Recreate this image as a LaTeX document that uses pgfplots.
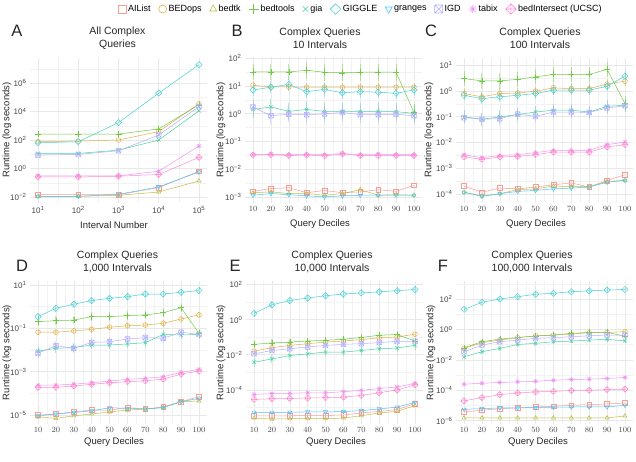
\documentclass[border=0pt]{standalone}
\usepackage{pgfplots}
\pgfplotsset{compat=1.18}
\usepackage{pgfplotstable}
\usepackage{fontspec}
\setmainfont{Liberation Sans}

\definecolor{hAIList}{HTML}{F8766D}
\definecolor{hBEDops}{HTML}{D89000}
\definecolor{hbedtk}{HTML}{A3A500}
\definecolor{hbedtools}{HTML}{39B600}
\definecolor{hgia}{HTML}{00BF7D}
\definecolor{hGIGGLE}{HTML}{00BFC4}
\definecolor{hgranges}{HTML}{00B0F6}
\definecolor{hIGD}{HTML}{9590FF}
\definecolor{htabix}{HTML}{E76BF3}
\definecolor{hbedI}{HTML}{FF62BC}
\colorlet{kAIList}{hAIList!72!white}
\colorlet{kBEDops}{hBEDops!72!white}
\colorlet{kbedtk}{hbedtk!72!white}
\colorlet{kbedtools}{hbedtools!72!white}
\colorlet{kgia}{hgia!72!white}
\colorlet{kGIGGLE}{hGIGGLE!72!white}
\colorlet{kgranges}{hgranges!72!white}
\colorlet{kIGD}{hIGD!72!white}
\colorlet{ktabix}{htabix!72!white}
\colorlet{kbedI}{hbedI!72!white}

\pgfdeclareplotmark{boxx}{%
  \pgfpathrectangle{\pgfpoint{-\pgfplotmarksize}{-\pgfplotmarksize}}{\pgfpoint{2\pgfplotmarksize}{2\pgfplotmarksize}}%
  \pgfpathmoveto{\pgfpoint{-\pgfplotmarksize}{-\pgfplotmarksize}}\pgfpathlineto{\pgfpoint{\pgfplotmarksize}{\pgfplotmarksize}}%
  \pgfpathmoveto{\pgfpoint{-\pgfplotmarksize}{\pgfplotmarksize}}\pgfpathlineto{\pgfpoint{\pgfplotmarksize}{-\pgfplotmarksize}}%
  \pgfusepathqstroke}
\pgfdeclareplotmark{star8}{%
  \pgfpathmoveto{\pgfpoint{-\pgfplotmarksize}{0pt}}\pgfpathlineto{\pgfpoint{\pgfplotmarksize}{0pt}}%
  \pgfpathmoveto{\pgfpoint{0pt}{-\pgfplotmarksize}}\pgfpathlineto{\pgfpoint{0pt}{\pgfplotmarksize}}%
  \pgfpathmoveto{\pgfpoint{-0.707\pgfplotmarksize}{-0.707\pgfplotmarksize}}\pgfpathlineto{\pgfpoint{0.707\pgfplotmarksize}{0.707\pgfplotmarksize}}%
  \pgfpathmoveto{\pgfpoint{-0.707\pgfplotmarksize}{0.707\pgfplotmarksize}}\pgfpathlineto{\pgfpoint{0.707\pgfplotmarksize}{-0.707\pgfplotmarksize}}%
  \pgfusepathqstroke}
\pgfdeclareplotmark{rdiamond}{%
  \pgfpathmoveto{\pgfpoint{0pt}{1.3\pgfplotmarksize}}\pgfpathlineto{\pgfpoint{1.3\pgfplotmarksize}{0pt}}%
  \pgfpathlineto{\pgfpoint{0pt}{-1.3\pgfplotmarksize}}\pgfpathlineto{\pgfpoint{-1.3\pgfplotmarksize}{0pt}}\pgfpathclose
  \pgfusepathqstroke}
\pgfdeclareplotmark{diamondplus}{%
  \pgfpathmoveto{\pgfpoint{0pt}{1.3\pgfplotmarksize}}\pgfpathlineto{\pgfpoint{1.3\pgfplotmarksize}{0pt}}%
  \pgfpathlineto{\pgfpoint{0pt}{-1.3\pgfplotmarksize}}\pgfpathlineto{\pgfpoint{-1.3\pgfplotmarksize}{0pt}}\pgfpathclose
  \pgfpathmoveto{\pgfpoint{0pt}{1.3\pgfplotmarksize}}\pgfpathlineto{\pgfpoint{0pt}{-1.3\pgfplotmarksize}}%
  \pgfpathmoveto{\pgfpoint{-1.3\pgfplotmarksize}{0pt}}\pgfpathlineto{\pgfpoint{1.3\pgfplotmarksize}{0pt}}%
  \pgfusepathqstroke}

\pgfplotsset{
  sAIList/.style={color=kAIList, mark=square, mark options={solid}},
  sBEDops/.style={color=kBEDops, mark=o, mark options={solid}},
  sbedtk/.style={color=kbedtk, mark=triangle, mark options={solid}},
  sbedtools/.style={color=kbedtools, mark=+, mark options={solid,scale=1.25}},
  sgia/.style={color=kgia, mark=x, mark options={solid}},
  sGIGGLE/.style={color=kGIGGLE, mark=rdiamond, mark options={solid}},
  sgranges/.style={color=kgranges, mark=triangle, mark options={solid,rotate=180}},
  sIGD/.style={color=kIGD, mark=boxx, mark options={solid}},
  stabix/.style={color=ktabix, mark=star8, mark options={solid}},
  sbedI/.style={color=kbedI, mark=diamondplus, mark options={solid}},
  eGIGGLE/.style={}, ebedtools/.style={}, eBEDops/.style={}, egia/.style={}, eIGD/.style={},
  errs/.style n args={5}{
    eGIGGLE/.style={error bars/y dir=both, error bars/y fixed=#1},
    ebedtools/.style={error bars/y dir=both, error bars/y fixed=#2},
    eBEDops/.style={error bars/y dir=both, error bars/y fixed=#3},
    egia/.style={error bars/y dir=both, error bars/y fixed=#4},
    eIGD/.style={error bars/y dir=both, error bars/y fixed=#5}},
  error bars/error mark=none,
  error bars/error bar style={line width=0.9pt, opacity=0.45},
  panel/.style={scale only axis, width=177pt, anchor=south west,
    axis line style={draw=none}, major tick length=0pt, minor tick length=0pt,
    grid=both, major grid style={color=black!9, line width=0.5pt},
    minor grid style={color=black!5, line width=0.35pt},
    tick label style={font=\fontsize{8}{9}\selectfont, text=black!72},
    clip=false,
    every axis plot/.append style={line width=0.5pt, mark size=2.4pt}},
  dec/.style={xmin=5.5, xmax=104.5, xtick={10,20,...,100}, minor xtick={15,25,...,95}},
  row1/.style={height=145.5pt},
  row2/.style={height=143pt},
}

\newcommand{\drawall}[1]{%
  \addplot[sAIList] table[x=x,y=AIList]{#1};
  \addplot[sBEDops,eBEDops] table[x=x,y=BEDops]{#1};
  \addplot[sbedtk] table[x=x,y=bedtk]{#1};
  \addplot[sbedtools,ebedtools] table[x=x,y=bedtools]{#1};
  \addplot[sgia,egia] table[x=x,y=gia]{#1};
  \addplot[sGIGGLE,eGIGGLE] table[x=x,y=GIGGLE]{#1};
  \addplot[sgranges] table[x=x,y=granges]{#1};
  \addplot[sIGD,eIGD] table[x=x,y=IGD]{#1};
  \addplot[stabix] table[x=x,y=tabix]{#1};
  \addplot[sbedI] table[x=x,y=bedI]{#1};
}

% values are log10(runtime in seconds)
\pgfplotstableread{
x AIList BEDops bedtk bedtools gia GIGGLE granges IGD tabix bedI
1 -1.84 1.88 -1.95 2.42 1.06 1.81 -1.95 0.94 -0.52 -0.59
2 -1.84 1.93 -1.95 2.42 1.06 1.88 -1.95 0.99 -0.52 -0.59
3 -1.84 2.00 -1.88 2.42 1.29 3.22 -1.81 1.25 -0.52 -0.54
4 -1.34 2.59 -1.65 2.78 2.00 5.29 -1.29 2.35 -0.19 -0.42
5 -0.19 4.54 -0.87 4.47 4.05 7.29 -0.24 4.35 1.58 0.78
}\tabA
\pgfplotstableread{
x AIList BEDops bedtk bedtools gia GIGGLE granges IGD tabix bedI
10 -2.80 1.02 -2.85 1.50 0.15 0.85 -2.94 0.24 -1.48 -1.49
20 -2.70 0.96 -2.82 1.50 0.24 0.95 -2.88 -0.08 -1.46 -1.48
30 -2.67 0.96 -2.88 1.50 0.08 1.05 -2.92 -0.02 -1.48 -1.51
40 -2.85 0.95 -2.88 1.56 0.15 0.79 -2.96 -0.04 -1.48 -1.49
50 -2.77 0.95 -2.94 1.49 0.08 0.87 -3.00 -0.01 -1.48 -1.52
60 -2.85 0.95 -2.88 1.47 0.08 0.75 -2.96 0.04 -1.44 -1.45
70 -2.82 0.95 -2.74 1.49 0.07 0.79 -2.94 -0.04 -1.48 -1.51
80 -2.74 0.95 -2.94 1.49 0.08 0.77 -2.94 -0.04 -1.46 -1.51
90 -2.80 0.95 -2.92 1.49 0.07 0.73 -2.94 -0.02 -1.48 -1.51
100 -2.58 0.95 -2.94 0.04 0.01 0.85 -2.94 -0.08 -1.48 -1.51
}\tabB
\pgfplotstableread{
x AIList BEDops bedtk bedtools gia GIGGLE granges IGD tabix bedI
10 -3.70 -0.10 -3.94 0.48 -1.01 -0.17 -3.94 -1.04 -2.48 -2.56
20 -3.94 -0.23 -4.09 0.39 -1.10 -0.30 -4.10 -1.10 -2.60 -2.66
30 -3.78 -0.10 -4.00 0.39 -1.01 -0.23 -4.00 -1.08 -2.51 -2.57
40 -3.81 -0.08 -3.84 0.45 -0.92 -0.17 -3.91 -0.90 -2.48 -2.55
50 -3.74 -0.01 -3.81 0.55 -0.82 -0.10 -3.87 -0.99 -2.40 -2.48
60 -3.65 0.12 -3.70 0.64 -0.75 0.03 -3.81 -0.82 -2.31 -2.38
70 -3.58 0.09 -3.72 0.64 -0.75 0.03 -3.78 -0.82 -2.31 -2.38
80 -3.74 0.09 -3.72 0.64 -0.82 0.03 -3.74 -0.84 -2.31 -2.38
90 -3.48 0.27 -3.52 0.84 -0.60 0.18 -3.55 -0.66 -2.09 -2.18
100 -3.26 0.38 -3.48 -0.49 -0.56 0.58 -3.48 -0.58 -1.99 -2.09
}\tabC
\pgfplotstableread{
x AIList BEDops bedtk bedtools gia GIGGLE granges IGD tabix bedI
10 -5.00 -1.18 -5.08 -0.69 -2.05 -0.46 -5.03 -2.15 -3.62 -3.72
20 -4.95 -1.18 -5.15 -0.65 -1.92 -0.08 -4.95 -1.80 -3.62 -3.72
30 -4.85 -1.12 -5.03 -0.62 -1.89 0.11 -4.88 -1.92 -3.57 -3.66
40 -4.77 -1.05 -4.95 -0.46 -1.77 0.28 -4.80 -1.65 -3.51 -3.58
50 -4.77 -0.95 -4.85 -0.46 -1.77 0.38 -4.66 -1.62 -3.43 -3.51
60 -4.65 -0.88 -4.77 -0.42 -1.72 0.46 -4.69 -1.49 -3.35 -3.46
70 -4.72 -0.85 -4.72 -0.38 -1.66 0.58 -4.72 -1.43 -3.31 -3.42
80 -4.62 -0.77 -4.65 -0.28 -1.28 0.58 -4.65 -1.46 -3.23 -3.34
90 -4.38 -0.57 -4.38 -0.05 -1.31 0.66 -4.38 -1.18 -3.03 -3.11
100 -4.15 -0.38 -4.35 -1.23 -1.28 0.74 -4.23 -1.28 -2.89 -2.97
}\tabD
\pgfplotstableread{
x AIList BEDops bedtk bedtools gia GIGGLE granges IGD tabix bedI
10 -5.48 -1.80 -5.61 -1.41 -2.43 0.36 -5.28 -1.95 -4.26 -4.55
20 -5.48 -1.60 -5.67 -1.33 -2.24 0.84 -5.28 -1.76 -4.22 -4.51
30 -5.48 -1.47 -5.65 -1.28 -2.05 1.09 -5.28 -1.66 -4.20 -4.49
40 -5.46 -1.37 -5.65 -1.22 -1.95 1.23 -5.26 -1.56 -4.17 -4.47
50 -5.46 -1.28 -5.65 -1.18 -1.85 1.36 -5.26 -1.47 -4.17 -4.45
60 -5.44 -1.22 -5.61 -1.12 -1.85 1.46 -5.24 -1.41 -4.11 -4.42
70 -5.32 -1.14 -5.48 -1.02 -1.76 1.52 -5.19 -1.37 -4.03 -4.32
80 -5.23 -1.04 -5.32 -0.89 -1.66 1.58 -5.09 -1.31 -3.93 -4.17
90 -5.13 -0.99 -5.23 -0.85 -1.62 1.65 -4.99 -1.24 -3.84 -4.01
100 -4.78 -0.83 -4.90 -1.22 -1.47 1.71 -4.71 -1.24 -3.63 -3.72
}\tabE
\pgfplotstableread{
x AIList BEDops bedtk bedtools gia GIGGLE granges IGD tabix bedI
10 -5.43 -1.25 -5.82 -1.21 -1.80 1.32 -5.25 -1.47 -3.60 -4.70
20 -5.32 -0.88 -5.82 -0.81 -1.47 1.78 -5.21 -1.03 -3.54 -4.48
30 -5.21 -0.70 -5.82 -0.64 -1.25 2.00 -5.16 -0.81 -3.49 -4.29
40 -5.16 -0.55 -5.82 -0.53 -0.99 2.15 -5.16 -0.70 -3.45 -4.18
50 -5.10 -0.42 -5.82 -0.44 -0.92 2.31 -5.14 -0.59 -3.41 -4.11
60 -5.05 -0.37 -5.82 -0.37 -0.81 2.37 -5.12 -0.55 -3.34 -4.07
70 -4.99 -0.31 -5.82 -0.26 -0.77 2.48 -5.10 -0.48 -3.30 -4.02
80 -4.95 -0.22 -5.82 -0.20 -0.70 2.53 -5.10 -0.42 -3.27 -4.00
90 -4.90 -0.20 -5.82 -0.20 -0.66 2.59 -5.10 -0.37 -3.23 -3.96
100 -4.84 -0.15 -5.69 -0.44 -0.75 2.62 -4.99 -0.37 -3.16 -3.93
}\tabF

\begin{document}
\begin{tikzpicture}[x=1pt,y=1pt]
\path[use as bounding box] (0,0) rectangle (636,-461);

% ---- A
\begin{axis}[panel, row1, at={(30pt,-203pt)},
  xmin=0.8, xmax=5.2, ymin=-2.42, ymax=7.79,
  xtick={1,2,3,4,5}, minor xtick={1.5,2.5,3.5,4.5},
  xticklabels={10\textsuperscript{1},10\textsuperscript{2},10\textsuperscript{3},10\textsuperscript{4},10\textsuperscript{5}},
  ytick={-2,0,2,4,6}, minor ytick={-1,1,3,5,7},
  yticklabels={10\textsuperscript{−2},10\textsuperscript{0},10\textsuperscript{2},10\textsuperscript{4},10\textsuperscript{6}}]
\drawall{\tabA}
\end{axis}

% ---- B
\begin{axis}[panel, row1, dec, at={(245pt,-203pt)},
  ymin=-3.22, ymax=2.02,
  ytick={-3,-2,-1,0,1,2}, minor ytick={-2.5,-1.5,-0.5,0.5,1.5},
  yticklabels={10\textsuperscript{−3},10\textsuperscript{−2},10\textsuperscript{−1},10\textsuperscript{0},10\textsuperscript{1},10\textsuperscript{2}},
  errs={0.22}{0.3}{0.15}{0.3}{0.3},
  legend columns=10,
  legend style={at={(0.655,1.333)}, anchor=center, draw=none, fill=none,
    font=\fontsize{9}{10}\selectfont, inner sep=0pt,
    /tikz/every even column/.append style={column sep=6pt}},
  legend image code/.code={\draw[#1,mark size=4pt,line width=0.6pt] plot coordinates {(0.17cm,0cm)};}]
\drawall{\tabB}
\legend{AIList,BEDops,bedtk,bedtools,gia,GIGGLE,granges,IGD,tabix,bedIntersect (UCSC)}
\end{axis}

% ---- C
\begin{axis}[panel, row1, dec, at={(456pt,-203pt)},
  ymin=-4.36, ymax=1.30,
  ytick={-4,-3,-2,-1,0,1}, minor ytick={-3.5,-2.5,-1.5,-0.5,0.5},
  yticklabels={10\textsuperscript{−4},10\textsuperscript{−3},10\textsuperscript{−2},10\textsuperscript{−1},10\textsuperscript{0},10\textsuperscript{1}},
  errs={0.2}{0.3}{0.2}{0.25}{0.25}]
\drawall{\tabC}
\end{axis}

% ---- D
\begin{axis}[panel, row2, dec, at={(30pt,-424pt)},
  ymin=-5.41, ymax=1.18,
  ytick={-5,-3,-1,1}, minor ytick={-4,-2,0},
  yticklabels={10\textsuperscript{−5},10\textsuperscript{−3},10\textsuperscript{−1},10\textsuperscript{1}},
  errs={0.15}{0.2}{0.15}{0.2}{0.2}]
\drawall{\tabD}
\end{axis}

% ---- E
\begin{axis}[panel, row2, dec, at={(246pt,-424pt)},
  ymin=-5.95, ymax=2.20,
  ytick={-4,-2,0,2}, minor ytick={-5,-3,-1,1},
  yticklabels={10\textsuperscript{−4},10\textsuperscript{−2},10\textsuperscript{0},10\textsuperscript{2}},
  errs={0.2}{0.2}{0.15}{0.25}{0.15}]
\drawall{\tabE}
\end{axis}

% ---- F
\begin{axis}[panel, row2, dec, at={(456pt,-424pt)},
  ymin=-6.22, ymax=3.18,
  ytick={-6,-4,-2,0,2}, minor ytick={-5,-3,-1,1,3},
  yticklabels={10\textsuperscript{−6},10\textsuperscript{−4},10\textsuperscript{−2},10\textsuperscript{0},10\textsuperscript{2}},
  errs={0.12}{0.12}{0.1}{0.15}{0.1}]
\drawall{\tabF}
\end{axis}

% ---- titles, letters, axis labels
\begin{scope}[every node/.style={text=black!85}]
\node[font=\fontsize{10.5}{13}\selectfont, align=center] at (117.5,-38.5) {All Complex\\Queries};
\node[font=\fontsize{10.5}{13}\selectfont, align=center] at (320,-38.5) {Complex Queries\\10 Intervals};
\node[font=\fontsize{10.5}{13}\selectfont, align=center] at (540,-38.5) {Complex Queries\\100 Intervals};
\node[font=\fontsize{10.5}{13}\selectfont, align=center] at (117.5,-261.5) {Complex Queries\\1,000 Intervals};
\node[font=\fontsize{10.5}{13}\selectfont, align=center] at (332,-261.5) {Complex Queries\\10,000 Intervals};
\node[font=\fontsize{10.5}{13}\selectfont, align=center] at (532,-261.5) {Complex Queries\\100,000 Intervals};

\node[font=\fontsize{16.5}{18}\selectfont] at (17,-31) {A};
\node[font=\fontsize{16.5}{18}\selectfont] at (237,-31) {B};
\node[font=\fontsize{16.5}{18}\selectfont] at (431,-31) {C};
\node[font=\fontsize{16.5}{18}\selectfont] at (22,-266) {D};
\node[font=\fontsize{16.5}{18}\selectfont] at (235,-266) {E};
\node[font=\fontsize{16.5}{18}\selectfont] at (443,-266) {F};

\node[font=\fontsize{9.5}{11}\selectfont, rotate=90] at (7,-130) {Runtime (log seconds)};
\node[font=\fontsize{9.5}{11}\selectfont, rotate=90] at (221,-130) {Runtime (log seconds)};
\node[font=\fontsize{9.5}{11}\selectfont, rotate=90] at (429,-130) {Runtime (log seconds)};
\node[font=\fontsize{9.5}{11}\selectfont, rotate=90] at (7,-352.5) {Runtime (log seconds)};
\node[font=\fontsize{9.5}{11}\selectfont, rotate=90] at (221,-352.5) {Runtime (log seconds)};
\node[font=\fontsize{9.5}{11}\selectfont, rotate=90] at (431,-352.5) {Runtime (log seconds)};

\node[font=\fontsize{9.5}{11}\selectfont] at (114,-225) {Interval Number};
\node[font=\fontsize{9.5}{11}\selectfont] at (320,-224) {Query Deciles};
\node[font=\fontsize{9.5}{11}\selectfont] at (536,-224) {Query Deciles};
\node[font=\fontsize{9.5}{11}\selectfont] at (114,-442) {Query Deciles};
\node[font=\fontsize{9.5}{11}\selectfont] at (336,-442) {Query Deciles};
\node[font=\fontsize{9.5}{11}\selectfont] at (538,-442) {Query Deciles};
\end{scope}
\end{tikzpicture}
\end{document}
